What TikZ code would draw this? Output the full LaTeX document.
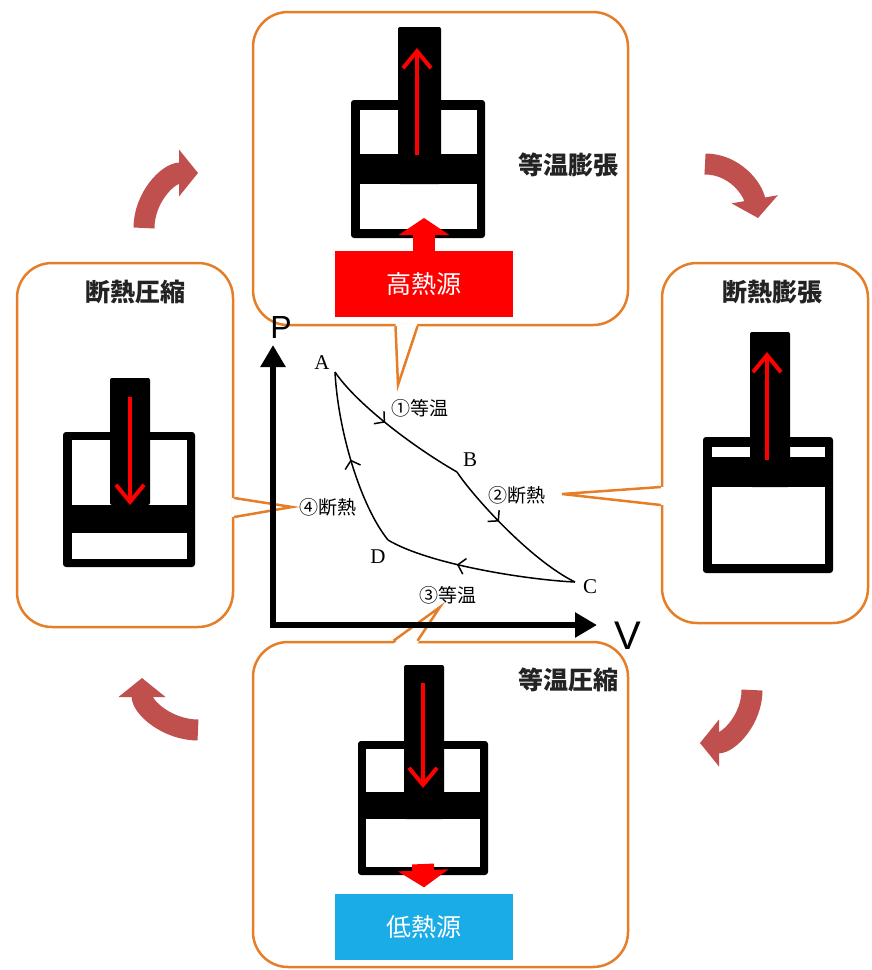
\documentclass[tikz,border=0pt]{standalone}
\usepackage{fontspec}
\setmainfont{Liberation Serif}
\newfontfamily\jpfont{Noto Sans CJK JP}
\newfontfamily\latinsans{Liberation Sans}
\usetikzlibrary{arrows.meta, decorations.markings}
\definecolor{panelorange}{RGB}{230,126,40}
\definecolor{turnred}{RGB}{192,80,77}
\definecolor{coldblue}{RGB}{26,172,230}
\definecolor{titlegray}{RGB}{35,35,35}

\begin{document}
\begin{tikzpicture}[x=1pt, y=-1pt,
  panel/.style={draw=panelorange, line width=2.5pt, rounded corners=35pt, inner sep=0pt},
  tail/.style={draw=panelorange, line width=2.5pt, line join=miter},
  title/.style={font=\jpfont\bfseries\fontsize{25}{25}\selectfont, text=titlegray, inner sep=0pt},
  source/.style={minimum width=178pt, minimum height=66pt, inner sep=0pt, text=white, font=\jpfont\fontsize{25}{25}\selectfont},
  heatflow/.style={draw=red, line width=22pt, -{Triangle[length=17pt,width=50pt]}},
  rodarrow/.style={draw=red, line width=4pt, -{Straight Barb[length=17pt,width=28pt,line width=4pt]}},
  turn/.style={draw=turnred, line width=21pt, -{Triangle[length=19pt,width=46pt]}},
  axisline/.style={line width=6pt, {Triangle[length=22pt,width=24pt]}-{Triangle[length=22pt,width=24pt]}},
  cycleline/.style={line width=1.5pt},
  midarrow/.style={postaction={decorate}, decoration={markings, mark=at position #1 with {\arrow{Straight Barb[length=7pt,width=16pt,line width=1.5pt]}}}},
  vertex/.style={font=\fontsize{21}{21}\selectfont, inner sep=0pt},
  proc/.style={font=\jpfont\fontsize{19}{19}\selectfont, inner sep=0pt}
]
  \useasboundingbox (0,0) rectangle (871,970);

  % four stages around the diagram
  \node[panel, minimum width=375pt, minimum height=313pt] (isoexp) at (440.5,168.5) {};
  \node[panel, minimum width=206pt, minimum height=360pt] (adiexp) at (765,443) {};
  \node[panel, minimum width=375pt, minimum height=325pt] (isocomp) at (440.5,804.5) {};
  \node[panel, minimum width=216pt, minimum height=364pt] (adicomp) at (125,445) {};

  \node[title] (isoexp-title) at (568,165) {等温膨張};
  \node[title] (adiexp-title) at (772,292) {断熱膨張};
  \node[title] (isocomp-title) at (568,680) {等温圧縮};
  \node[title] (adicomp-title) at (135,292) {断熱圧縮};

  \coordinate (tip1) at (398,385);
  \coordinate (tip2) at (562,494);
  \coordinate (tip3) at (440,607);
  \coordinate (tip4) at (292,507);

  \fill[white] ([xshift=-45pt,yshift=3pt]isoexp.south) -- (tip1) -- ([xshift=-23pt,yshift=3pt]isoexp.south) -- cycle;
  \draw[tail] ([xshift=-45pt]isoexp.south) -- (tip1) -- ([xshift=-23pt]isoexp.south);
  \fill[white] ([xshift=3pt,yshift=-44pt]adiexp.west) -- (tip2) -- ([xshift=3pt,yshift=-62pt]adiexp.west) -- cycle;
  \draw[tail] ([yshift=-44pt]adiexp.west) -- (tip2) -- ([yshift=-62pt]adiexp.west);
  \fill[white] ([xshift=-47pt,yshift=-3pt]isocomp.north) -- (tip3) -- ([xshift=-23pt,yshift=-3pt]isocomp.north) -- cycle;
  \draw[tail] ([xshift=-47pt]isocomp.north) -- (tip3) -- ([xshift=-23pt]isocomp.north);
  \fill[white] ([xshift=-3pt,yshift=-53pt]adicomp.east) -- (tip4) -- ([xshift=-3pt,yshift=-72pt]adicomp.east) -- cycle;
  \draw[tail] ([yshift=-53pt]adicomp.east) -- (tip4) -- ([yshift=-72pt]adicomp.east);

  % pistons
  \fill[rounded corners=3pt] (351,100) rectangle (485,238);
  \fill[white] (360,110) rectangle (477,229);
  \fill (360,154) rectangle (477,184);
  \fill[rounded corners=2pt] (398,27) rectangle (441,184);
  \draw[rodarrow] (417,155) -- (417,48);

  \fill[rounded corners=3pt] (703,437) rectangle (833,573);
  \fill[white] (712,447) rectangle (825,564);
  \fill (712,457) rectangle (825,487);
  \fill[rounded corners=2pt] (750,332) rectangle (790,487);
  \draw[rodarrow] (767,460) -- (767,352);

  \fill[rounded corners=3pt] (358,741) rectangle (488,875);
  \fill[white] (366,749) rectangle (480,867);
  \fill (366,792) rectangle (480,819);
  \fill[rounded corners=2pt] (404,665) rectangle (444,819);
  \draw[rodarrow] (423,683) -- (423,788);

  \fill[rounded corners=3pt] (63,432) rectangle (195,567);
  \fill[white] (72,440) rectangle (187,559);
  \fill (72,505) rectangle (187,533);
  \fill[rounded corners=2pt] (110,378) rectangle (150,505);
  \draw[rodarrow] (130,397) -- (130,505);

  % reservoirs
  \node[source, fill=red] (hot) at (424,284) {高熱源};
  \node[source, fill=coldblue] (cold) at (424,926.5) {低熱源};
  \draw[heatflow] (hot.north) -- (424,218);
  \draw[heatflow] (423,864) -- ([yshift=6pt]cold.north);

  % cycle direction
  \draw[turn] (144,228) to[out=90,in=180] (198,173);
  \draw[turn] (705,164) to[out=0,in=100] (758,218);
  \draw[turn] (752,690) to[out=-90,in=0] (700,743);
  \draw[turn] (198,730) to[out=180,in=-90] (142,678);

  % p-V diagram
  \coordinate (Ptop) at (273,345);
  \coordinate (Vend) at (597,625);
  \draw[axisline] (Ptop) |- (Vend);
  \node[font=\latinsans\fontsize{32}{32}\selectfont, inner sep=0pt] (Plabel) at (281,327) {P};
  \node[font=\latinsans\fontsize{40}{40}\selectfont, inner sep=0pt] (Vlabel) at (628,636) {V};

  \coordinate (A) at (335,372);
  \coordinate (B) at (457,472);
  \coordinate (C) at (575,582);
  \coordinate (D) at (388,540);
  \draw[cycleline, midarrow=0.45] (A) .. controls (355,402) and (410,445) .. (B);
  \draw[cycleline, midarrow=0.4] (B) .. controls (472,495) and (530,560) .. (C);
  \draw[cycleline, midarrow=0.62] (C) .. controls (530,580) and (430,565) .. (D);
  \draw[cycleline, midarrow=0.5] (D) .. controls (360,505) and (338,430) .. (A);

  \node[vertex] (Alabel) at (322,363) {A};
  \node[vertex] (Blabel) at (470,460) {B};
  \node[vertex] (Clabel) at (590,587) {C};
  \node[vertex] (Dlabel) at (378,557) {D};

  \node[proc] (step1) at (420,408) {①等温};
  \node[proc] (step2) at (517,495) {②断熱};
  \node[proc] (step3) at (448,595) {③等温};
  \node[proc] (step4) at (328,507) {④断熱};
\end{tikzpicture}
\end{document}
